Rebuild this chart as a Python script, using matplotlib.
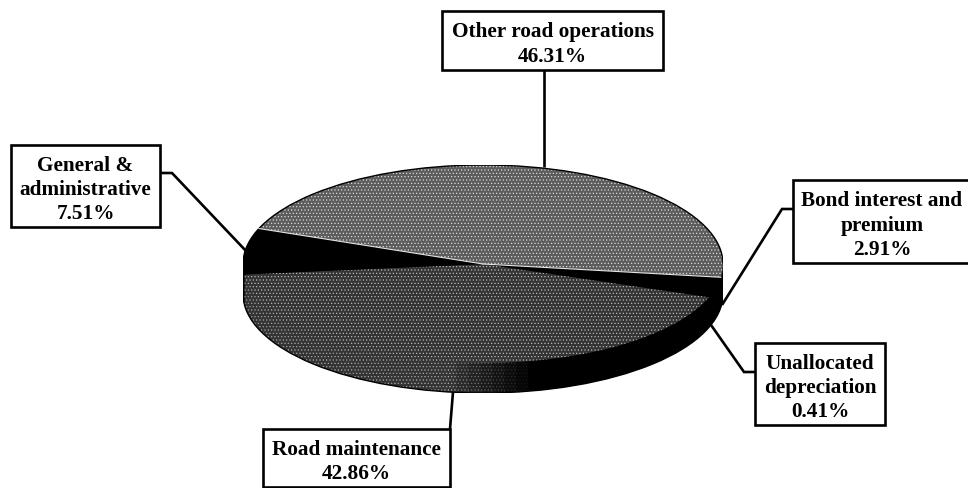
import matplotlib
matplotlib.use('Agg')
from matplotlib.patches import Arc
import matplotlib.pyplot as plt
import numpy as np

# Slices, clockwise from the left edge of "Other road operations"
labels = ['Other road operations', 'Bond interest and\npremium', 'Unallocated\ndepreciation',
          'Road maintenance', 'General &\nadministrative']
values = [46.31, 2.91, 0.41, 42.86, 7.51]
OTHER_COLOR = '#5c5c5c'
ROAD_COLOR = '#343434'
BLACK = '#000000'
top_colors = [OTHER_COLOR, BLACK, BLACK, ROAD_COLOR, BLACK]
# Road maintenance rim: black on the right, fading into the grey further left
road_rim_shares = [16.5, 0.8, 0.8, 0.8, 0.8, 0.8, 0.8]
road_rim_colors = [BLACK, '#060606', '#0c0c0c', '#131313', '#1a1a1a', '#222222', '#2b2b2b']
rim_hatch_colors = ['#1a1a1a', '#303030', '#484848', '#606060', '#787878', '#909090']
START_ANGLE = 159

# Label boxes in picture pixels: left, top, right, bottom
boxes = [(442, 11, 663, 70), (793, 180, 975, 263), (755, 343, 885, 425), (263, 429, 450, 487), (11, 145, 160, 227)]
leaders = [
    [(544, 70), (544, 167)],
    [(793, 209), (782, 209), (722, 305)],
    [(755, 372), (744, 372), (711, 325)],
    [(450, 429), (453, 392)],
    [(160, 173), (172, 173), (247, 252)],
]

W, H = 968, 488
PIE_LEFT, PIE_TOP, PIE_RX, PIE_RY, PIE_DEPTH = 243, 165, 240, 99, 30

plt.rcParams['hatch.linewidth'] = 0.5
fig = plt.figure(figsize=(W / 100, H / 100), dpi=100, facecolor='white')

# Pie axes: unit circle squashed to the ellipse, extra room below for the rim
total_h = 2 * PIE_RY + PIE_DEPTH
pie_ax = fig.add_axes([PIE_LEFT / W, 1 - (PIE_TOP + total_h) / H, 2 * PIE_RX / W, total_h / H])
depth_units = PIE_DEPTH / PIE_RY

side_values = values[:3] + road_rim_shares + [values[3] - sum(road_rim_shares)] + values[4:]
side_colors = [BLACK, BLACK, BLACK] + road_rim_colors + [ROAD_COLOR, BLACK]
hatch_colors = {OTHER_COLOR: '#d8d8d8', ROAD_COLOR: '#b8b8b8'}
hatch_colors.update(zip(road_rim_colors[1:], rim_hatch_colors))


def draw_pie(vals, colors, y):
    wedges, _ = pie_ax.pie(vals, colors=colors, startangle=START_ANGLE, counterclock=False,
                           center=(0, y), radius=1, normalize=True, frame=False)
    for wedge, color in zip(wedges, colors):
        wedge.set_linewidth(0)
        if color in hatch_colors:
            wedge.set_hatch('.....')
            wedge.set_edgecolor(hatch_colors[color])


for px in range(PIE_DEPTH, 0, -1):
    draw_pie(side_values, side_colors, -px / PIE_RY)
draw_pie(values, top_colors, 0)

# Light seam along the edges of the top slice
for angle in [START_ANGLE, START_ANGLE - values[0] * 3.6]:
    a = np.radians(angle)
    pie_ax.plot([0, np.cos(a)], [0, np.sin(a)], color='#e6e6e6', lw=0.8)

# Dark outline round the whole pie
pie_ax.add_patch(Arc((0, 0), 2, 2, theta1=0, theta2=180, color=BLACK, lw=1.0))
pie_ax.add_patch(Arc((0, -depth_units), 2, 2, theta1=180, theta2=360, color=BLACK, lw=1.0))
pie_ax.plot([-1, -1], [0, -depth_units], color=BLACK, lw=1.0)
pie_ax.plot([1, 1], [0, -depth_units], color=BLACK, lw=1.0)

pie_ax.set_aspect('auto')
pie_ax.set_xlim(-1, 1)
pie_ax.set_ylim(-1 - depth_units, 1)
pie_ax.axis('off')

# Overlay in picture pixels for the boxes and leader lines
ax = fig.add_axes([0, 0, 1, 1], zorder=3)
ax.set_xlim(0, W)
ax.set_ylim(H, 0)
ax.axis('off')

for line in leaders:
    xs, ys = zip(*line)
    ax.plot(xs, ys, color='black', lw=1.9, solid_joinstyle='miter', solid_capstyle='butt')

for (x0, y0, x1, y1), label, value in zip(boxes, labels, values):
    ax.add_patch(plt.Rectangle((x0, y0), x1 - x0, y1 - y0, facecolor='white', edgecolor='black', lw=1.9))
    # The bond box runs off the picture, its text stays centred on the visible part
    cx = (x0 + x1) / 2 if x1 <= W else 882
    ax.text(cx, (y0 + y1) / 2 + 4, f'{label}\n{value:.2f}%', ha='center', va='center',
            family='Liberation Serif', fontweight='bold', fontsize=15.3, linespacing=1.27, color='black')

fig.savefig('out.png', dpi=100)
